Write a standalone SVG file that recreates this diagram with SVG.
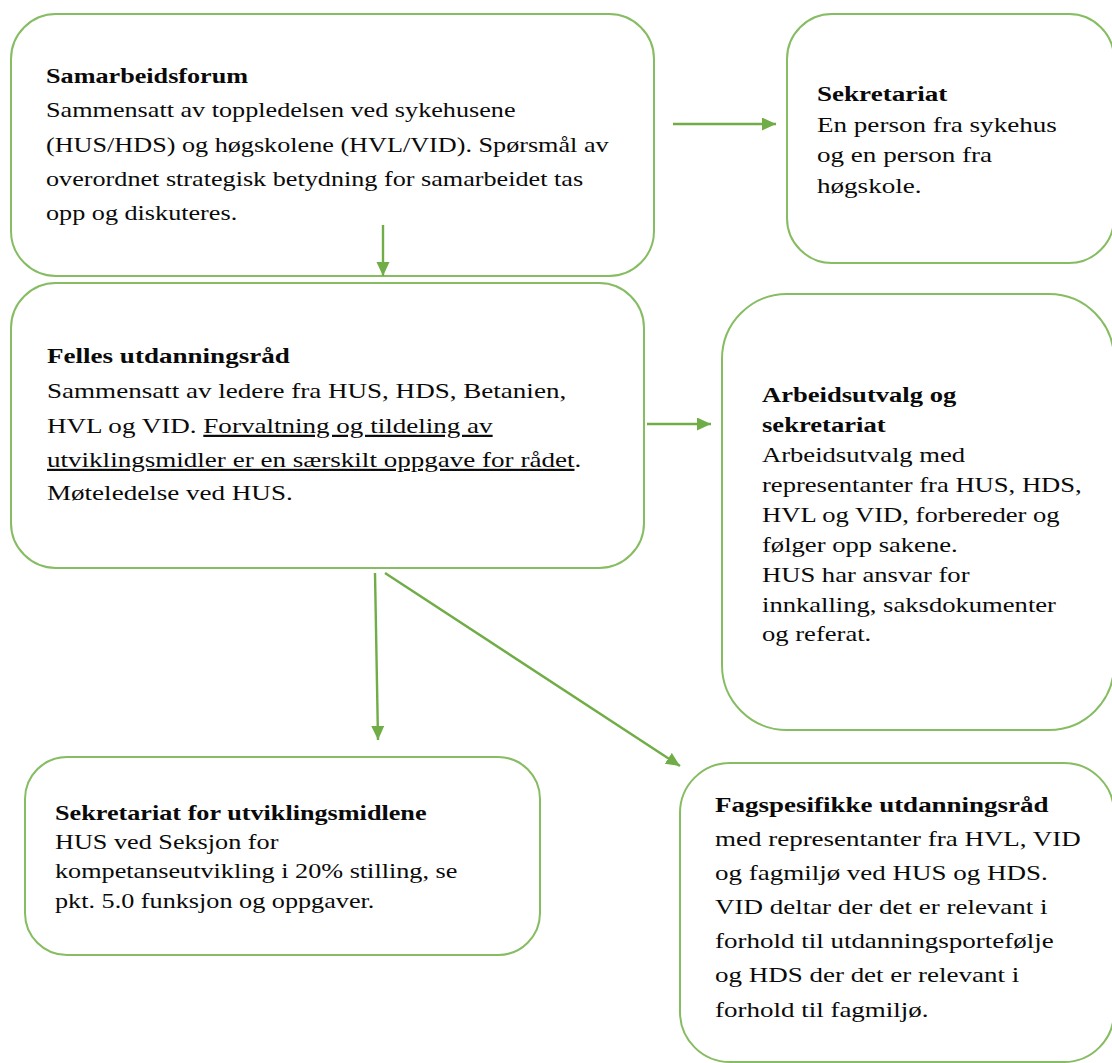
<svg xmlns="http://www.w3.org/2000/svg" width="1112" height="1063" viewBox="0 0 1112 1063">
  <style>
    .box { fill: #ffffff; stroke: #86BC62; stroke-width: 2; }
    .conn { stroke: #70AD47; stroke-width: 2.4; fill: none; marker-end: url(#arrow); }
    text { font-family: "Liberation Serif", "Times New Roman", serif; fill: #0a0a0a; }
    .t22 { font-size: 22px; }
    .t21 { font-size: 21px; }
    .b { font-weight: bold; }
    .u { text-decoration: underline; text-decoration-color: #555555; }
  </style>
  <defs>
    <marker id="arrow" markerUnits="userSpaceOnUse" markerWidth="15" markerHeight="14" refX="14" refY="6.5" orient="auto">
      <path d="M0,0 L14,6.5 L0,13 Z" fill="#70AD47"/>
    </marker>
  </defs>
  <rect width="1112" height="1063" fill="#ffffff"/>

  <g id="samarbeidsforum">
    <rect class="box" x="11" y="14" width="643" height="262" rx="45" ry="45"/>
    <g class="t22" transform="matrix(1.19 0 0 1 46 0)">
      <text class="b" x="0" y="83">Samarbeidsforum</text>
      <text x="0" y="117">Sammensatt av toppledelsen ved sykehusene</text>
      <text x="0" y="152">(HUS/HDS) og høgskolene (HVL/VID). Spørsmål av</text>
      <text x="0" y="186">overordnet strategisk betydning for samarbeidet tas</text>
      <text x="0" y="220">opp og diskuteres.</text>
    </g>
  </g>

  <g id="sekretariat">
    <rect class="box" x="787" y="14" width="327" height="249" rx="45" ry="45"/>
    <g class="t21" transform="matrix(1.29 0 0 1 817 0)">
      <text class="b" x="0" y="101">Sekretariat</text>
      <text x="0" y="132">En person fra sykehus</text>
      <text x="0" y="162">og en person fra</text>
      <text x="0" y="193">høgskole.</text>
    </g>
  </g>

  <g id="felles-utdanningsrad">
    <rect class="box" x="11" y="283" width="633" height="285" rx="45" ry="45"/>
    <g class="t22" transform="matrix(1.23 0 0 1 47 0)">
      <text class="b" x="0" y="363">Felles utdanningsråd</text>
      <text x="0" y="398">Sammensatt av ledere fra HUS, HDS, Betanien,</text>
      <text x="0" y="433">HVL og VID. <tspan class="u">Forvaltning og tildeling av</tspan></text>
      <text x="0" y="467"><tspan class="u">utviklingsmidler er en særskilt oppgave for rådet</tspan>.</text>
      <text x="0" y="500">Møteledelse ved HUS.</text>
    </g>
  </g>

  <g id="arbeidsutvalg">
    <rect class="box" x="722" y="294" width="392" height="436" rx="65" ry="65"/>
    <g class="t21" transform="matrix(1.267 0 0 1 762 0)">
      <text class="b" x="0" y="402">Arbeidsutvalg og</text>
      <text class="b" x="0" y="432">sekretariat</text>
      <text x="0" y="462">Arbeidsutvalg med</text>
      <text x="0" y="492">representanter fra HUS, HDS,</text>
      <text x="0" y="522">HVL og VID, forbereder og</text>
      <text x="0" y="552">følger opp sakene.</text>
      <text x="0" y="582">HUS har ansvar for</text>
      <text x="0" y="612">innkalling, saksdokumenter</text>
      <text x="0" y="641">og referat.</text>
    </g>
  </g>

  <g id="sekretariat-utviklingsmidlene">
    <rect class="box" x="25" y="757" width="515" height="198" rx="42" ry="42"/>
    <g class="t21" transform="matrix(1.248 0 0 1 55 0)">
      <text class="b" x="0" y="820">Sekretariat for utviklingsmidlene</text>
      <text x="0" y="849">HUS ved Seksjon for</text>
      <text x="0" y="878">kompetanseutvikling i 20% stilling, se</text>
      <text x="0" y="908">pkt. 5.0 funksjon og oppgaver.</text>
    </g>
  </g>

  <g id="fagspesifikke">
    <rect class="box" x="680" y="763" width="434" height="299" rx="50" ry="50"/>
    <g class="t22" transform="matrix(1.227 0 0 1 715 0)">
      <text class="b" x="0" y="812">Fagspesifikke utdanningsråd</text>
      <text x="0" y="846">med representanter fra HVL, VID</text>
      <text x="0" y="880">og fagmiljø ved HUS og HDS.</text>
      <text x="0" y="914">VID deltar der det er relevant i</text>
      <text x="0" y="948">forhold til utdanningsportefølje</text>
      <text x="0" y="982">og HDS der det er relevant i</text>
      <text x="0" y="1017">forhold til fagmiljø.</text>
    </g>
  </g>

  <g id="connectors">
    <line class="conn" x1="673" y1="124" x2="776" y2="124"/>
    <line class="conn" x1="383" y1="225" x2="383" y2="276"/>
    <line class="conn" x1="647" y1="424" x2="711" y2="424"/>
    <line class="conn" x1="375" y1="573" x2="378" y2="740"/>
    <line class="conn" x1="385" y1="573" x2="680" y2="766"/>
  </g>
</svg>
